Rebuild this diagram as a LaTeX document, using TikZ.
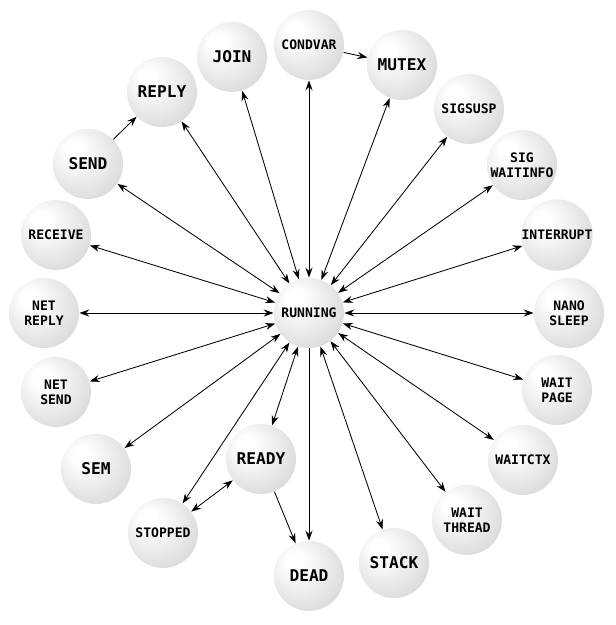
\documentclass[tikz,border=0pt]{standalone}
\usepackage{fontspec}
\setmonofont{DejaVu Sans Mono}
\usetikzlibrary{arrows.meta}
\pgfdeclareradialshading{bubble}{\pgfpoint{-12bp}{12bp}}{color(0bp)=(white); color(6bp)=(white); color(28bp)=(black!12); color(42bp)=(black!22); color(47bp)=(black!20); color(50bp)=(black!10)}
\tikzset{
  thread/.style={circle, minimum size=1.75cm, inner sep=0pt, shading=bubble, align=center},
  bigtext/.style={thread, font=\ttfamily\bfseries\fontsize{11.5}{13}\selectfont},
  smalltext/.style={thread, font=\ttfamily\bfseries\fontsize{9.3}{10.6}\selectfont}
}
\begin{document}
\begin{tikzpicture}[>={Stealth[length=7pt,width=5pt]}, line width=0.6pt]
\useasboundingbox (0,0) rectangle (15.375,15.625);
\node[smalltext] (running) at (7.725,7.8) {RUNNING};
\node[smalltext] (condvar) at (7.725,14.5) {CONDVAR};
\node[bigtext] (mutex) at (10.05,14.0) {MUTEX};
\node[smalltext] (sigsusp) at (11.725,12.9) {SIGSUSP};
\node[smalltext] (sigwait) at (13.05,11.5) {SIG\\WAITINFO};
\node[smalltext] (interrupt) at (13.925,9.75) {INTERRUPT};
\node[smalltext] (nanosleep) at (14.225,7.8) {NANO\\SLEEP};
\node[smalltext] (waitpage) at (13.925,5.875) {WAIT\\PAGE};
\node[smalltext] (waitctx) at (13.075,4.125) {WAITCTX};
\node[smalltext] (waitthread) at (11.675,2.625) {WAIT\\THREAD};
\node[bigtext] (stack) at (9.85,1.55) {STACK};
\node[bigtext] (dead) at (7.725,1.225) {DEAD};
\node[bigtext] (ready) at (6.525,4.15) {READY};
\node[smalltext] (stopped) at (4.075,2.3) {STOPPED};
\node[bigtext] (sem) at (2.4,3.9) {SEM};
\node[smalltext] (netsend) at (1.4,5.825) {NET\\SEND};
\node[smalltext] (netreply) at (1.1,7.8) {NET\\REPLY};
\node[smalltext] (receive) at (1.4,9.75) {RECEIVE};
\node[bigtext] (send) at (2.2,11.525) {SEND};
\node[bigtext] (reply) at (4.05,13.325) {REPLY};
\node[bigtext] (join) at (5.8,14.2) {JOIN};

% running <-> blocked states
\draw[<->] (running) -- (condvar);
\draw[<->] (running) -- (mutex);
\draw[<->] (running) -- (sigsusp);
\draw[<->] (running) -- (sigwait);
\draw[<->] (running) -- (interrupt);
\draw[<->] (running) -- (nanosleep);
\draw[<->] (running) -- (waitpage);
\draw[<->] (running) -- (waitctx);
\draw[<->] (running) -- (waitthread);
\draw[<->] (running) -- (stack);
\draw[<->] (running) -- (ready);
\draw[<->] (running) -- (stopped);
\draw[<->] (running) -- (sem);
\draw[<->] (running) -- (netsend);
\draw[<->] (running) -- (netreply);
\draw[<->] (running) -- (receive);
\draw[<->] (running) -- (send);
\draw[<->] (running) -- (reply);
\draw[<->] (running) -- (join);

\draw[->] (running) -- (dead);
\draw[->] (ready) -- (dead);
\draw[<->] (stopped) -- (ready);
\draw[->] (send) -- (reply);
\draw[->] (condvar) -- (mutex);
\end{tikzpicture}
\end{document}
